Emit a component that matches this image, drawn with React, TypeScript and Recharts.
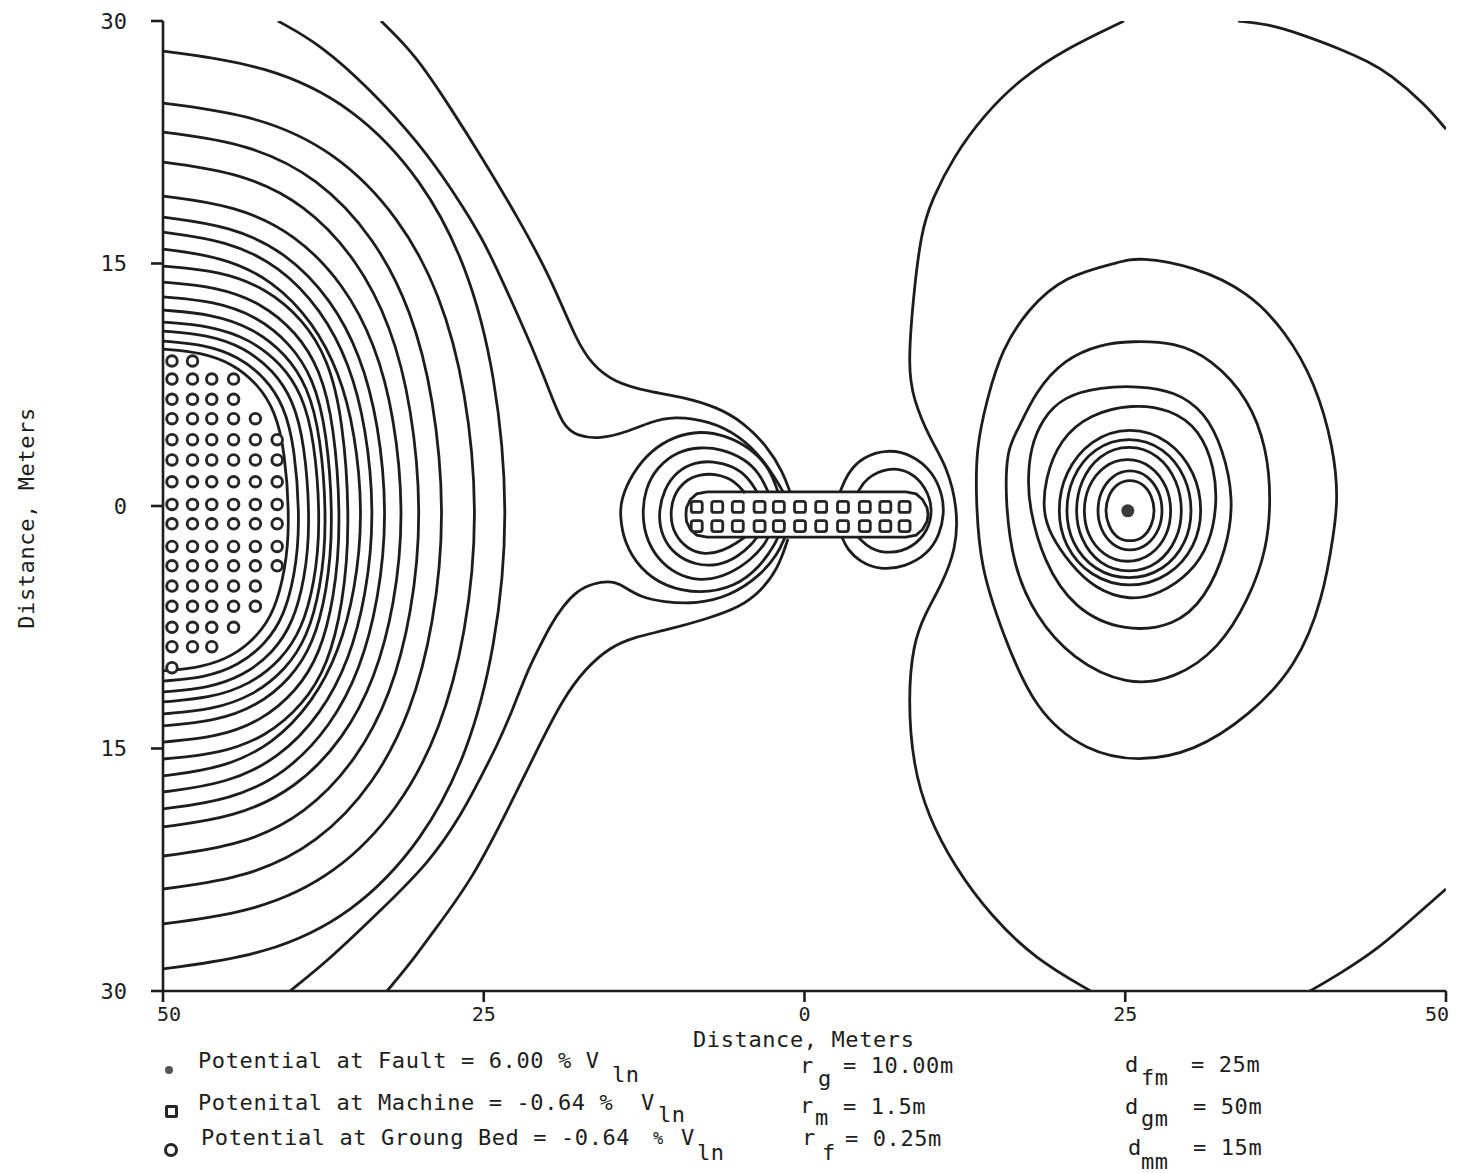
import { ComposedChart, Line, Scatter, XAxis, YAxis } from 'recharts';

type Pt = [number, number];

const INK = '#1d1d1d';
const MONO = '"DejaVu Sans Mono", monospace';

const X_TICKS = [-50, -25, 0, 25, 50];
const Y_TICKS = [30, 15, 0, -15, -30];

// contours round the ground bed (left edge), inner to outer
const GROUND_BED_CONTOURS: Pt[][] = [
  [[-50, 9.71], [-47.03, 9.51], [-44.56, 8.81], [-42.58, 7.51], [-41.29, 5.91], [-40.5, 3.5], [-40.1, -1.2], [-40.5, -4.06], [-41.29, -6.44], [-42.58, -8.02], [-44.56, -9.31], [-47.03, -10.0], [-50, -10.2]],
  [[-50, 10.2], [-46.79, 9.99], [-44.12, 9.26], [-41.98, 7.89], [-40.58, 6.21], [-39.73, 3.69], [-39.3, -1.2], [-39.73, -4.3], [-40.58, -6.83], [-41.98, -8.51], [-44.12, -9.88], [-46.79, -10.62], [-50, -10.83]],
  [[-50, 10.82], [-46.55, 10.6], [-43.68, 9.82], [-41.38, 8.37], [-39.88, 6.59], [-38.96, 3.93], [-38.5, -1.2], [-38.96, -4.56], [-39.88, -7.24], [-41.38, -9.04], [-43.68, -10.49], [-46.55, -11.28], [-50, -11.5]],
  [[-50, 11.38], [-46.31, 11.15], [-43.24, 10.33], [-40.78, 8.81], [-39.18, 6.94], [-38.19, 4.14], [-37.7, -1.2], [-38.19, -4.79], [-39.18, -7.63], [-40.78, -9.52], [-43.24, -11.06], [-46.31, -11.88], [-50, -12.12]],
  [[-50, 12.12], [-46.16, 11.87], [-42.96, 11.0], [-40.4, 9.39], [-38.74, 7.4], [-37.71, 4.42], [-37.2, -1.2], [-37.71, -5.07], [-38.74, -8.09], [-40.4, -10.1], [-42.96, -11.73], [-46.16, -12.61], [-50, -12.86]],
  [[-50, 12.93], [-46.01, 12.67], [-42.69, 11.74], [-40.03, 10.02], [-38.3, 7.9], [-37.23, 4.73], [-36.7, -1.2], [-37.23, -5.35], [-38.3, -8.55], [-40.03, -10.67], [-42.69, -12.4], [-46.01, -13.33], [-50, -13.6]],
  [[-50, 13.85], [-45.83, 13.57], [-42.36, 12.58], [-39.58, 10.74], [-37.77, 8.47], [-36.66, 5.08], [-36.1, -1.2], [-36.66, -5.73], [-37.77, -9.17], [-39.58, -11.45], [-42.36, -13.31], [-45.83, -14.31], [-50, -14.6]],
  [[-50, 14.84], [-45.62, 14.54], [-41.97, 13.48], [-39.05, 11.51], [-37.15, 9.09], [-35.98, 5.45], [-35.4, -1.2], [-35.98, -6.13], [-37.15, -9.82], [-39.05, -12.27], [-41.97, -14.27], [-45.62, -15.34], [-50, -15.65]],
  [[-50, 15.89], [-45.32, 15.4], [-41.42, 13.95], [-38.3, 11.36], [-36.27, 8.28], [-35.02, 4.56], [-34.4, -0.6], [-35.02, -5.22], [-36.27, -8.99], [-38.3, -12.11], [-41.42, -14.73], [-45.32, -16.21], [-50, -16.7]],
  [[-50, 16.94], [-45.05, 16.42], [-40.93, 14.87], [-37.63, 12.11], [-35.48, 8.84], [-34.16, 4.87], [-33.5, -0.6], [-34.16, -5.52], [-35.48, -9.52], [-37.63, -12.82], [-40.93, -15.6], [-45.05, -17.17], [-50, -17.69]],
  [[-50, 17.87], [-44.75, 17.32], [-40.38, 15.69], [-36.88, 12.78], [-34.6, 9.33], [-33.2, 5.15], [-32.5, -0.6], [-33.2, -5.83], [-34.6, -10.07], [-36.88, -13.58], [-40.38, -16.53], [-44.75, -18.19], [-50, -18.74]],
  [[-50, 19.17], [-44.36, 18.59], [-39.66, 16.83], [-35.9, 13.72], [-33.46, 10.02], [-31.95, 5.54], [-31.2, -0.6], [-31.95, -6.17], [-33.46, -10.66], [-35.9, -14.38], [-39.66, -17.5], [-44.36, -19.26], [-50, -19.85]],
  [[-50, 21.27], [-43.94, 20.62], [-38.89, 18.68], [-34.85, 15.23], [-32.22, 11.13], [-30.61, 6.17], [-29.8, -0.6], [-30.61, -6.71], [-32.22, -11.62], [-34.85, -15.67], [-38.89, -19.09], [-43.94, -21.01], [-50, -21.65]],
  [[-50, 23.13], [-43.4, 22.43], [-37.9, 20.32], [-33.5, 16.57], [-30.64, 12.12], [-28.88, 6.73], [-28.0, -0.6], [-28.88, -7.32], [-30.64, -12.7], [-33.5, -17.14], [-37.9, -20.88], [-43.4, -22.99], [-50, -23.69]],
  [[-50, 24.92], [-42.62, 24.16], [-36.47, 21.89], [-31.55, 17.86], [-28.35, 13.07], [-26.38, 7.27], [-25.4, -0.6], [-26.38, -7.97], [-28.35, -13.84], [-31.55, -18.7], [-36.47, -22.78], [-42.62, -25.08], [-50, -25.85]],
  [[-50, 28.14], [-41.9, 27.29], [-35.15, 24.73], [-29.75, 20.18], [-26.24, 14.77], [-24.08, 8.23], [-23.0, -0.6], [-24.08, -8.8], [-26.24, -15.31], [-29.75, -20.7], [-35.15, -25.23], [-41.9, -27.78], [-50, -28.63]],
];

// lines that come past the saddle and end on the machine
const SADDLE_LINES: Pt[][] = [
  [[-33.01, 30], [-30.36, 27.95], [-27.63, 24.68], [-25.06, 21.46], [-22.41, 17.93], [-19.84, 14.22], [-17.73, 10.14], [-16.56, 8.78], [-14.92, 7.67], [-12.04, 7.05], [-9.47, 6.74], [-6.82, 6.12], [-4.79, 5.19], [-2.92, 3.71], [-1.68, 2.1], [-1.13, 0.87]],
  [[-41.04, 30], [-37.76, 28.57], [-33.86, 25.79], [-29.97, 22.39], [-27.24, 19.3], [-25.06, 16.51], [-23.5, 13.85], [-21.16, 9.71], [-19.84, 7.05], [-18.83, 4.95], [-17.73, 4.33], [-15.94, 4.14], [-13.84, 4.58], [-12.04, 5.19], [-10.25, 5.57], [-7.37, 5.26], [-5.03, 4.33], [-3.24, 2.91], [-1.91, 1.24], [-1.68, 0.87]],
  [[-40.1, -30], [-36.98, -28.01], [-33.09, -25.05], [-29.19, -22.02], [-26.62, -18.92], [-25.3, -16.88], [-23.97, -14.84], [-22.72, -12.55], [-21.63, -10.27], [-20.85, -9.03], [-19.84, -7.42], [-18.83, -6.18], [-17.73, -5.26], [-16.48, -4.76], [-14.92, -4.64], [-14.15, -4.95], [-12.82, -5.63], [-11.03, -5.94], [-8.38, -6.06], [-5.81, -5.57], [-3.47, -4.33], [-2.07, -2.97], [-1.52, -1.92]],
  [[-32.54, -30], [-30.75, -28.32], [-29.19, -26.59], [-25.84, -23.07], [-22.72, -18.12], [-20.62, -14.72], [-18.83, -11.94], [-17.11, -10.08], [-15.16, -8.72], [-13.21, -8.1], [-11.03, -7.73], [-7.6, -6.99], [-5.03, -6.25], [-3.47, -5.32], [-2.07, -3.9], [-1.29, -2.04]],
];

const LEFT_POLE_RINGS: Pt[][] = [
  [[-2.07, 0.87], [-2.69, 2.29], [-4.09, 3.53], [-6.2, 4.39], [-8.14, 4.64], [-10.09, 4.33], [-12.04, 3.4], [-13.45, 1.98], [-14.3, 0.43], [-14.38, -0.62], [-14.07, -2.23], [-12.82, -3.9], [-10.87, -5.01], [-8.14, -5.44], [-5.42, -5.01], [-3.47, -3.77], [-2.3, -2.35], [-2.07, -1.92]],
  [[-2.84, 0.87], [-3.47, 1.98], [-4.64, 2.91], [-6.43, 3.53], [-8.14, 3.65], [-9.86, 3.4], [-11.5, 2.41], [-12.43, 1.05], [-12.67, -0.62], [-12.28, -2.23], [-11.11, -3.59], [-9.55, -4.39], [-7.76, -4.64], [-5.81, -4.21], [-4.09, -3.28], [-3.08, -2.35], [-2.84, -1.92]],
  [[-3.7, 0.87], [-4.4, 1.79], [-5.57, 2.47], [-7.13, 2.78], [-8.53, 2.72], [-9.94, 2.16], [-10.95, 1.05], [-11.42, -0.49], [-11.11, -1.92], [-10.09, -3.03], [-8.53, -3.65], [-6.74, -3.71], [-5.18, -3.15], [-4.09, -2.35], [-3.7, -1.92]],
  [[-4.64, 0.8], [-5.42, 1.55], [-6.74, 1.98], [-8.14, 1.98], [-9.39, 1.55], [-10.25, 0.62], [-10.48, -0.62], [-10.17, -1.73], [-9.16, -2.66], [-7.76, -3.03], [-6.35, -2.78], [-5.18, -2.23], [-4.64, -1.92]],
];

const RIGHT_POLE_RINGS: Pt[][] = [
  [[2.77, 0.87], [3.31, 1.98], [4.48, 3.03], [6.51, 3.53], [8.46, 3.15], [10.02, 2.1], [10.79, 0.62], [10.87, -0.49], [10.56, -1.73], [9.63, -2.97], [7.83, -3.77], [5.88, -3.96], [4.33, -3.46], [3.31, -2.66], [2.92, -1.92]],
  [[4.17, 0.87], [4.79, 1.73], [6.51, 2.41], [8.22, 2.16], [9.47, 1.18], [10.02, -0.19], [9.63, -1.55], [8.38, -2.6], [6.66, -2.97], [5.11, -2.66], [4.33, -2.04], [4.17, -1.92]],
];

// closed rings round the fault, outer to inner
const FAULT_RINGS: Pt[][] = [
  [[26.0, 15.4], [30.36, 14.84], [34.65, 13.23], [37.53, 10.76], [39.79, 7.67], [41.27, 3.53], [41.58, 0.43], [41.27, -1.61], [40.41, -5.75], [38.39, -9.89], [34.65, -12.99], [30.36, -15.21], [26.0, -15.83], [22.02, -15.21], [17.97, -12.74], [15.39, -7.79], [13.68, -3.71], [13.37, 0.43], [13.37, 3.53], [14.22, 6.62], [15.39, 9.71], [17.42, 12.18], [20.22, 14.22], [24.59, 15.09]],
  [[25.45, 10.2], [28.88, 10.14], [31.76, 9.09], [34.65, 6.62], [36.05, 3.53], [36.36, 0.43], [36.05, -2.66], [34.65, -5.75], [32.31, -8.84], [28.88, -10.7], [25.14, -11.13], [20.85, -9.46], [17.97, -6.8], [16.25, -3.71], [15.63, 0.43], [15.78, 3.53], [16.56, 4.58], [17.97, 7.05], [20.22, 9.09], [23.11, 10.02]],
  [[23.11, 7.36], [25.99, 7.42], [28.88, 7.11], [31.22, 5.81], [32.62, 3.53], [33.48, 0.43], [32.93, -2.66], [31.22, -5.75], [28.88, -7.42], [24.9, -7.79], [21.0, -6.4], [18.6, -3.4], [17.5, 0.0], [17.42, 1.67], [17.6, 3.53], [18.5, 5.38], [20.22, 6.8]],
  [[25.53, 6.31], [28.5, 6.0], [30.8, 4.76], [32.0, 2.29], [32.15, 0], [31.6, -2.35], [30.05, -4.2], [27.7, -5.44], [25.37, -5.87], [22.64, -5.13], [20.69, -3.59], [19.13, -1.73], [18.59, -0.37], [18.74, 1.67], [19.91, 4.14], [22.25, 5.69]],
  [[25.37, 4.95], [28.49, 4.14], [30.51, 2.04], [31.06, -0.31], [30.51, -2.47], [28.49, -4.39], [25.37, -5.13], [22.25, -4.39], [20.22, -2.47], [19.68, -0.31], [20.22, 2.04], [22.25, 4.14]],
  [[25.29, 4.33], [28.02, 3.65], [29.81, 1.79], [30.28, -0.31], [29.81, -2.29], [28.02, -4.02], [25.29, -4.64], [22.56, -4.02], [20.77, -2.29], [20.3, -0.31], [20.77, 1.79], [22.56, 3.65]],
  [[25.29, 3.83], [27.63, 3.22], [29.11, 1.55], [29.5, -0.31], [29.11, -2.04], [27.63, -3.65], [25.29, -4.2], [22.95, -3.65], [21.47, -2.04], [21.08, -0.31], [21.47, 1.55], [22.95, 3.22]],
  [[25.18, 3.03], [27.08, 2.54], [28.33, 1.18], [28.64, -0.31], [28.33, -1.79], [27.08, -3.09], [25.18, -3.58], [23.27, -3.09], [22.02, -1.79], [21.71, -0.31], [22.02, 1.18], [23.27, 2.54]],
  [[25.37, 2.29], [26.77, 1.92], [27.71, 0.87], [27.94, -0.31], [27.71, -1.42], [26.77, -2.47], [25.37, -2.84], [23.97, -2.47], [23.03, -1.42], [22.8, -0.31], [23.03, 0.87], [23.97, 1.92]],
  [[25.37, 1.67], [26.46, 1.36], [27.09, 0.62], [27.32, -0.31], [27.09, -1.18], [26.46, -1.98], [25.37, -2.23], [24.28, -1.98], [23.66, -1.18], [23.42, -0.31], [23.66, 0.62], [24.28, 1.36]],
];

// open lines that leave the plot (between machine and fault, right corners)
const OUTER_LINES: Pt[][] = [
  [[24.9, 30], [20.3, 28.26], [16.8, 26.41], [13.91, 24.12], [11.65, 21.64], [9.94, 18.99], [9.08, 16.94], [8.46, 12.8], [8.07, 8.66], [8.46, 6.62], [9.78, 4.14], [11.1, 2.47], [11.96, -0.19], [11.81, -2.66], [10.72, -4.82], [9.39, -6.68], [8.46, -8.53], [8.07, -11.94], [8.46, -16.08], [9.63, -19.17], [11.65, -22.26], [14.53, -25.36], [17.97, -28.01], [22.3, -30]],
  [[33.8, 30], [36.5, 29.75], [38.6, 29.2], [41.7, 28.3], [43.9, 27.5], [45.63, 26.72], [48.36, 24.86], [50, 23.31]],
  [[39.4, -30], [41.7, -28.94], [44.7, -27.4], [47.6, -25.36], [50, -23.69]],
];

const MACHINE_OUTLINE: Pt[] = [
  [-7.6, 0.87], [7.9, 0.87], [8.7, 0.75], [9.2, 0.4], [9.55, -0.1], [9.63, -0.52], [9.55, -0.95], [9.2, -1.45], [8.7, -1.8], [7.9, -1.92],
  [-7.6, -1.92], [-8.4, -1.8], [-8.9, -1.45], [-9.2, -0.95], [-9.24, -0.52], [-9.2, -0.1], [-8.9, 0.4], [-8.4, 0.75], [-7.6, 0.87],
];

const MACHINE_COLS = [-8.4, -6.8, -5.2, -3.5, -2.0, -0.35, 1.3, 3.0, 4.7, 6.3, 7.8];
const MACHINE_ROWS = [-0.06, -1.24];

const BED_COLS = [-49.3, -47.7, -46.2, -44.5, -42.8, -41.1];
const BED_ROWS = [8.97, 7.85, 6.6, 5.4, 4.1, 2.85, 1.5, 0.1, -1.1, -2.5, -3.7, -4.95, -6.2, -7.5, -8.7, -10.0];
const BED_COUNTS = [2, 4, 4, 5, 6, 6, 6, 6, 6, 6, 6, 5, 5, 4, 3, 1];

const FAULT_POINT = [{ x: 25.2, y: -0.3 }];

const toXY = (pts: Pt[]) => pts.map(([x, y]) => ({ x, y }));

const bedPoints = BED_ROWS.flatMap((y, i) => BED_COLS.slice(0, BED_COUNTS[i]).map((x) => ({ x, y })));
const machinePoints = MACHINE_ROWS.flatMap((y) => MACHINE_COLS.map((x) => ({ x, y })));

const abs = (v: number) => String(Math.abs(v));

function contourLines(group: Pt[][], type: string, prefix: string) {
  return group.map((pts, i) => (
    <Line
      key={`${prefix}-${i}`}
      data={toXY(pts)}
      dataKey="y"
      type={type as any}
      stroke={INK}
      strokeWidth={2.8}
      dot={false}
      activeDot={false}
      legendType="none"
      isAnimationActive={false}
    />
  ));
}

const BedCircle = (props: any) => (
  <circle cx={props.cx} cy={props.cy} r={5.3} fill="#fff" stroke="#262626" strokeWidth={2.9} />
);
const MachineSquare = (props: any) => (
  <rect x={props.cx - 5.5} y={props.cy - 5.5} width={11} height={11} rx={2.5} fill="#fff" stroke="#262626" strokeWidth={2.8} />
);
const FaultDot = (props: any) => <circle cx={props.cx} cy={props.cy} r={6.5} fill="#3a3a3a" />;

// x tick labels: the end labels are nudged so both stay on the page
const XTick = (props: any) => {
  const { x, y, payload } = props;
  const v = payload.value;
  const anchor = v === 50 ? 'end' : 'middle';
  const dx = v === 50 ? 3 : v === -50 ? 6 : 0;
  return (
    <text x={x + dx} y={y} dy="0.72em" textAnchor={anchor} fill={INK} fontSize={20} fontFamily={MONO}>
      {abs(v)}
    </text>
  );
};

// text placed by page coordinates: left edge and vertical centre of capitals
function Txt({ x, y, size = 22, children }: { x: number; y: number; size?: number; children: any }) {
  return (
    <span
      style={{
        position: 'absolute',
        left: x - 8,
        top: y - 8 - 7.6,
        fontSize: size,
        lineHeight: '16px',
        letterSpacing: '0.6px',
        whiteSpace: 'pre',
        color: INK,
      }}
    >
      {children}
    </span>
  );
}

export default function App() {
  return (
    <div style={{ position: 'relative', width: 1450, height: 1165, fontFamily: MONO, background: '#fff' }}>
      <ComposedChart width={1450} height={1165} margin={{ top: 13, right: 12, left: 0, bottom: 152 }}>
        <XAxis
          type="number"
          dataKey="x"
          domain={[-50, 50]}
          ticks={X_TICKS}
          interval={0}
          allowDataOverflow
          height={30}
          tickSize={11}
          tickMargin={5}
          axisLine={{ stroke: INK, strokeWidth: 2.6 }}
          tickLine={{ stroke: INK, strokeWidth: 2.6 }}
          tick={<XTick />}
        />
        <YAxis
          type="number"
          dataKey="y"
          domain={[-30, 30]}
          ticks={Y_TICKS}
          interval={0}
          allowDataOverflow
          tickFormatter={abs}
          width={155}
          tickSize={12}
          tickMargin={24}
          axisLine={{ stroke: INK, strokeWidth: 2.6 }}
          tickLine={{ stroke: INK, strokeWidth: 2.6 }}
          tick={{ fill: INK, fontSize: 22, fontFamily: MONO }}
        />
        {contourLines(GROUND_BED_CONTOURS, 'basis', 'bed')}
        {contourLines(SADDLE_LINES, 'basis', 'saddle')}
        {contourLines(LEFT_POLE_RINGS, 'basis', 'lpole')}
        {contourLines(RIGHT_POLE_RINGS, 'basis', 'rpole')}
        {contourLines(OUTER_LINES, 'basis', 'outer')}
        {contourLines(FAULT_RINGS, 'basisClosed', 'fault')}
        {contourLines([MACHINE_OUTLINE], 'linear', 'machine')}
        <Scatter data={machinePoints} shape={MachineSquare} isAnimationActive={false} legendType="none" />
        <Scatter data={bedPoints} shape={BedCircle} isAnimationActive={false} legendType="none" />
        <Scatter data={FAULT_POINT} shape={FaultDot} isAnimationActive={false} legendType="none" />
      </ComposedChart>

      {/* axis titles */}
      <span
        style={{
          position: 'absolute',
          left: 27 - 8,
          top: 518 - 8,
          transform: 'translate(-50%, -50%) rotate(-90deg)',
          fontSize: 22,
          lineHeight: '22px',
          letterSpacing: '0.6px',
          whiteSpace: 'pre',
          color: INK,
        }}
      >
        Distance, Meters
      </span>
      <Txt x={693} y={1040}>Distance, Meters</Txt>

      {/* legend markers */}
      <span style={{ position: 'absolute', left: 169 - 8 - 4, top: 1070 - 8 - 4, width: 8, height: 8, borderRadius: 4, background: '#555' }} />
      <span style={{ position: 'absolute', left: 171 - 8 - 6, top: 1111 - 8 - 6, width: 7, height: 7, border: '3px solid #262626', borderRadius: 2 }} />
      <span style={{ position: 'absolute', left: 171 - 8 - 7, top: 1150 - 8 - 7, width: 8, height: 8, border: '3.2px solid #262626', borderRadius: '50%' }} />

      {/* legend text, left column */}
      <Txt x={198} y={1061}>Potential at Fault = 6.00 % V</Txt>
      <Txt x={612} y={1075}>ln</Txt>
      <Txt x={198} y={1103}>Potenital at Machine = -0.64 %</Txt>
      <Txt x={641} y={1103}>V</Txt>
      <Txt x={658} y={1115}>ln</Txt>
      <Txt x={201} y={1138}>Potential at Groung Bed = -0.64</Txt>
      <Txt x={653} y={1138} size={17}>%</Txt>
      <Txt x={681} y={1138}>V</Txt>
      <Txt x={697} y={1153}>ln</Txt>

      {/* radii */}
      <Txt x={800} y={1066}>r</Txt>
      <Txt x={818} y={1079}>g</Txt>
      <Txt x={843} y={1066}>= 10.00m</Txt>
      <Txt x={800} y={1106}>r</Txt>
      <Txt x={815} y={1118}>m</Txt>
      <Txt x={843} y={1107}>= 1.5m</Txt>
      <Txt x={802} y={1138}>r</Txt>
      <Txt x={822} y={1153}>f</Txt>
      <Txt x={845} y={1139}>= 0.25m</Txt>

      {/* distances */}
      <Txt x={1125} y={1065}>d</Txt>
      <Txt x={1141} y={1078}>fm</Txt>
      <Txt x={1191} y={1065}>= 25m</Txt>
      <Txt x={1125} y={1107}>d</Txt>
      <Txt x={1141} y={1119}>gm</Txt>
      <Txt x={1193} y={1107}>= 50m</Txt>
      <Txt x={1128} y={1148}>d</Txt>
      <Txt x={1141} y={1162}>mm</Txt>
      <Txt x={1193} y={1148}>= 15m</Txt>
    </div>
  );
}
